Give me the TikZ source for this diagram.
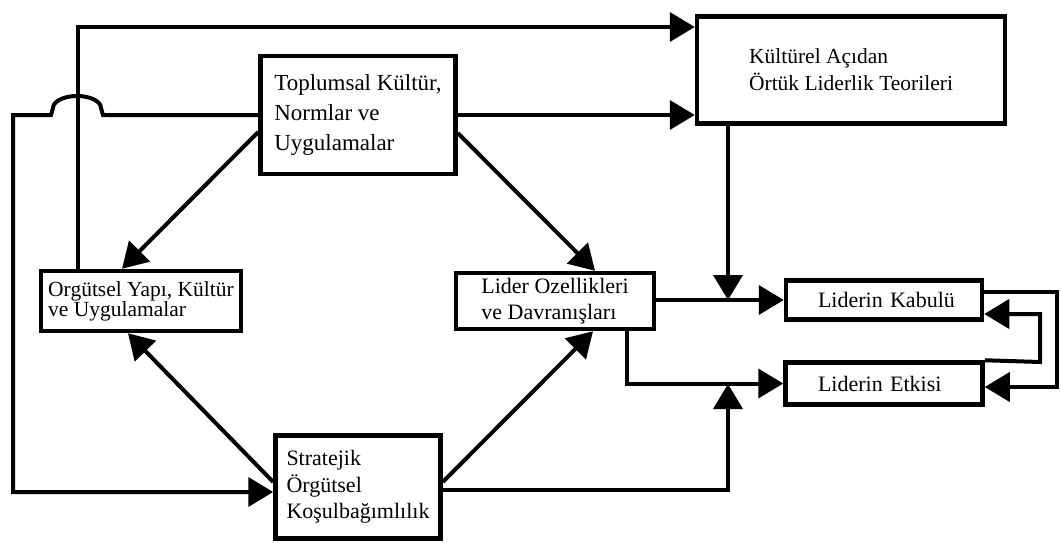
\documentclass[tikz,border=0pt]{standalone}
\usepackage{fontspec}
\setmainfont{Liberation Serif}
\usetikzlibrary{arrows.meta}
\begin{document}
\begin{tikzpicture}[x=1pt,y=-1pt,
  box/.style={draw=black,line width=4.5pt,inner sep=0pt,align=left,fill=white},
  conn/.style={draw=black,line width=4pt},
  arr/.style={conn,-{Triangle[length=25pt,width=29pt]}},
  fA/.style={font=\fontsize{22}{26}\selectfont},
]
\useasboundingbox (0,0) rectangle (1061,543);
% boxes
\node[box,minimum width=195pt,minimum height=118pt,font=\fontsize{23}{30}\selectfont] (top) at (358,115)
  {Toplumsal Kültür,\\Normlar ve\\Uygulamalar};
\node[box,minimum width=308pt,minimum height=107pt,font=\fontsize{21.5}{27}\selectfont] (kult) at (851,70)
  {Kültürel Açıdan\\Örtük Liderlik Teorileri};
\node[box,minimum width=200pt,minimum height=60pt,font=\fontsize{21.5}{20}\selectfont] (org) at (141,301)
  {Orgütsel Yapı, Kültür\\ve Uygulamalar};
\node[box,minimum width=198pt,minimum height=56pt,fA] (lider) at (555,301)
  {Lider Ozellikleri\\ve Davranışları};
\node[box,minimum width=196pt,minimum height=39pt,fA,text width=132pt] (kab) at (884,300)
  {\mbox{Liderin Kabulü}};
\node[box,minimum width=197pt,minimum height=42pt,fA,text width=132pt] (etk) at (884,383.5)
  {\mbox{Liderin Etkisi}};
\node[box,minimum width=165pt,minimum height=103pt,font=\fontsize{22}{26.5}\selectfont] (str) at (358,487)
  {Stratejik\\Örgütsel\\Koşulbağımlılık};
% helper coordinates
\coordinate (c1) at (78,27);
\coordinate (lp) at (13,492);
\coordinate (j1) at (728,300);
\coordinate (j2) at (728,384);
\coordinate (o1) at (1057,387);
\coordinate (i1) at (1040,362);
% connectors
\draw[arr] (org.north -| c1) -- (c1) -- (kult.west |- c1);
\draw[arr] (top.west) -- (103,115) -- (101,108) arc[start angle=0,end angle=-180,x radius=24,y radius=12]
  -- (51,115) -- (13,115) -- (lp) -- (str.west |- lp);
\draw[arr] (top.east) -- (kult.west |- top.east);
\draw[arr] ([yshift=-17pt]top.west) -- ([xshift=-19pt]org.north);
\draw[arr] ([yshift=-18pt]top.east) -- ([xshift=40pt]lider.north);
\draw[arr] ([yshift=5pt]str.west) -- ([xshift=-13pt]org.south);
\draw[arr] ([yshift=5pt]str.east) -- ([xshift=38pt]lider.south);
\draw[arr] ([yshift=-3pt]str.east) -| (j2);
\draw[arr] (kult.south -| j1) -- (j1);
\draw[arr] (lider.east |- kab.west) -- (kab.west);
\draw[arr] ([xshift=72pt]lider.south) |- (etk.west);
\draw[arr] ([yshift=8pt]kab.east) -| (o1) -- ([yshift=-3.5pt]etk.east);
\draw[arr] (etk.north east) -- (i1) |- ([yshift=-14pt]kab.east);
\end{tikzpicture}
\end{document}
